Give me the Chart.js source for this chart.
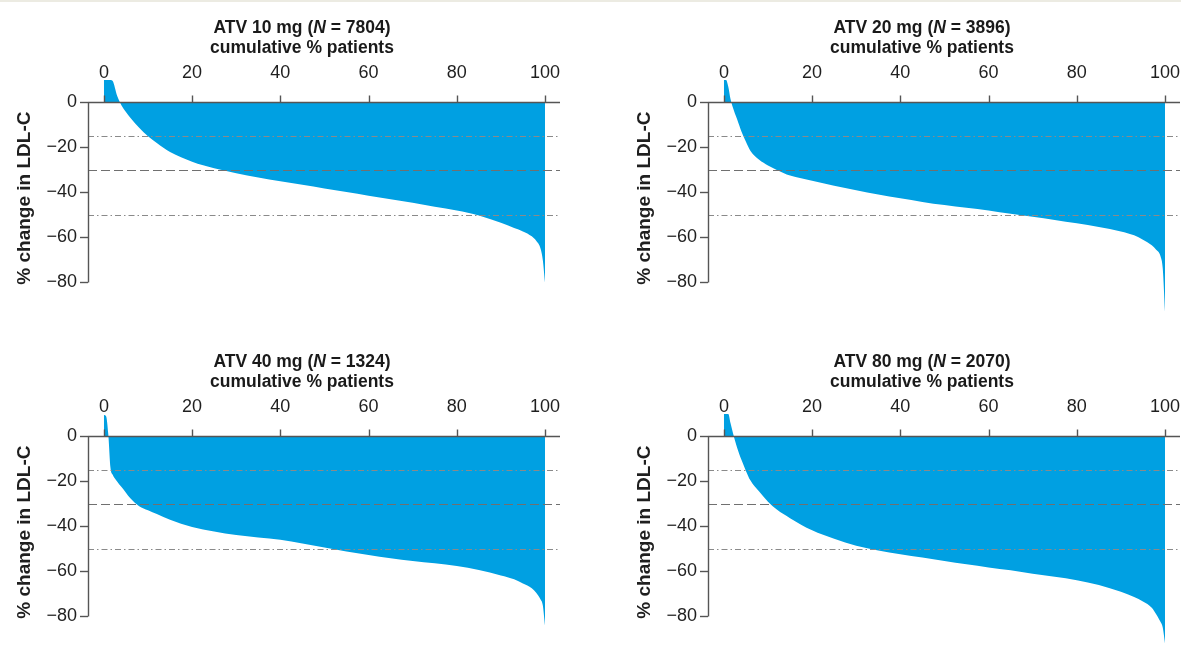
<!DOCTYPE html>
<html>
<head>
<meta charset="utf-8">
<title>LDL-C waterfall</title>
<script src="https://cdn.jsdelivr.net/npm/chart.js@4.4.1/dist/chart.umd.min.js"></script>
<style>
    html, body { margin: 0; padding: 0; background: #fff; overflow: hidden; }
    body { width: 1181px; height: 659px; position: relative; font-family: "Liberation Sans", Arial, sans-serif; }
    .topline { position: absolute; left: 0; top: 0; width: 1181px; height: 2px; background: #ecebe2; }
    .panel { position: absolute; width: 590px; height: 330px; }
    .panel canvas { position: absolute; left: 0; top: 0; }
    .ttl { position: absolute; left: 0; width: 604px; text-align: center; font-weight: bold;
           font-size: 17.5px; line-height: 21px; color: #1a1a1a; white-space: nowrap; }
</style>
</head>
<body>
<div class="topline"></div>
<div id="wrap"></div>
<script>
// Données
const doses = ['10', '20', '40', '80'];
const nPatients = [7804, 3896, 1324, 2070];
const xTicks = [0, 20, 40, 60, 80, 100];
const yTicks = [0, -20, -40, -60, -80];
const refLevels = [-15, -30, -50];

// % cumulé de patients (abscisse) et variation du LDL-C (%) pour chaque dose
const cumPct = [0, 0.5, 1, 1.5, 2, 3, 4, 5, 6, 8, 10, 12, 15, 20, 25, 30, 35, 40, 45, 50,
    55, 60, 65, 70, 75, 80, 85, 90, 93, 95, 97, 98, 99, 99.5, 100];
const atv10 = [10, 10, 10, 10, 9.5, 3, -1.3, -4.2, -6.8, -11.2, -15, -18, -22, -26.3, -29.2,
    -31.4, -33.3, -35, -36.6, -38.2, -39.8, -41.4, -43, -44.6, -46.3, -48, -50.2, -53.5, -55.8,
    -57.3, -59.5, -61.5, -65, -70, -80];
const atv20 = [10, 10, 7, 1.5, -2, -7.5, -13, -17.5, -21.5, -25.5, -28, -30, -32.5, -34.8, -37,
    -39, -40.9, -42.6, -44.2, -45.6, -46.8, -48, -49.5, -50.8, -52.2, -53.7, -55.4, -57.3, -59,
    -61, -63.5, -65.5, -68.5, -74, -93];
const atv40 = [9.5, 9, 1, -14, -17, -20, -22.5, -25, -27.5, -31, -32.8, -34.5, -37, -40.2, -42.2,
    -43.8, -44.9, -45.9, -47.6, -49.4, -51.1, -52.7, -54.1, -55.3, -56.4, -57.6, -59.4, -61.8,
    -63.5, -65.4, -67.5, -69.5, -72.5, -75, -84];
const atv80 = [10, 10, 10, 6, 2, -5, -10.5, -15.3, -19.5, -24.5, -29, -32.5, -36.3, -41.7, -45.5,
    -48.6, -50.7, -52.3, -53.8, -55.3, -56.8, -58.2, -59.5, -61, -62.4, -63.9, -66, -69, -71.3,
    -73.3, -76.1, -79, -82.5, -85, -92];
const series = [atv10, atv20, atv40, atv80];

// Bornes des axes
const xMin = -3.6, xMax = 103.4;
const yMin = -95, yMax = 10;

// Styles
const blue = '#00a0e2';
const axisColor = '#555';
const textColor = '#1f1f1f';
const refDash = [[6, 3, 1.5, 3], [9, 4], [6, 3, 1.5, 3]];
const refColor = ['#8a8a8a', '#707070', '#8a8a8a'];
const panelPos = [[0, 0], [620, 0], [0, 334], [620, 334]];

Chart.defaults.font.family = '"Liberation Sans", Arial, sans-serif';

const minus = v => (v < 0 ? '\u2212' + Math.abs(v) : String(v));

// Axe des x au niveau 0, axe des y de 0 à -80, lignes de référence
const axesOverlay = {
    id: 'axesOverlay',
    afterDatasetsDraw(chart) {
        const { ctx, chartArea, scales: { x, y } } = chart;
        const y0 = Math.round(y.getPixelForValue(0)) + 0.5;
        ctx.save();
        ctx.lineWidth = 1;
        refLevels.forEach((lvl, i) => {
            const py = Math.round(y.getPixelForValue(lvl)) + 0.5;
            ctx.setLineDash(refDash[i]);
            ctx.strokeStyle = refColor[i];
            ctx.beginPath();
            ctx.moveTo(chartArea.left, py);
            ctx.lineTo(chartArea.right, py);
            ctx.stroke();
        });
        ctx.setLineDash([]);
        ctx.strokeStyle = axisColor;
        ctx.lineWidth = 1.4;
        ctx.beginPath();
        ctx.moveTo(chartArea.left, y0);
        ctx.lineTo(chartArea.right, y0);
        xTicks.forEach(v => {
            const px = Math.round(x.getPixelForValue(v)) + 0.5;
            ctx.moveTo(px, y0);
            ctx.lineTo(px, y0 - 7);
        });
        const yAxisX = Math.round(chartArea.left) + 0.5;
        ctx.moveTo(yAxisX, y0);
        ctx.lineTo(yAxisX, y.getPixelForValue(yTicks[yTicks.length - 1]));
        ctx.stroke();
        ctx.restore();
    }
};

const wrap = document.getElementById('wrap');

doses.forEach((dose, i) => {
    const panel = document.createElement('div');
    panel.className = 'panel';
    panel.style.left = panelPos[i][0] + 'px';
    panel.style.top = panelPos[i][1] + 'px';

    const canvas = document.createElement('canvas');
    canvas.width = 590;
    canvas.height = 330;
    panel.appendChild(canvas);

    const t1 = document.createElement('div');
    t1.className = 'ttl';
    t1.style.top = '17px';
    t1.innerHTML = `ATV ${dose} mg (<i>N</i> = ${nPatients[i]})`;
    const t2 = document.createElement('div');
    t2.className = 'ttl';
    t2.style.top = '37px';
    t2.textContent = 'cumulative % patients';
    panel.appendChild(t1);
    panel.appendChild(t2);
    wrap.appendChild(panel);

    new Chart(canvas.getContext('2d'), {
        type: 'line',
        data: {
            datasets: [{
                data: cumPct.map((p, k) => ({ x: p, y: series[i][k] })),
                fill: 'origin',
                backgroundColor: blue,
                borderColor: blue,
                borderWidth: 0,
                pointRadius: 0,
                cubicInterpolationMode: 'monotone'
            }]
        },
        options: {
            responsive: false,
            animation: false,
            events: [],
            layout: { padding: { left: 0, right: 30, top: 50, bottom: 7 } },
            plugins: { legend: { display: false }, tooltip: { enabled: false } },
            scales: {
                x: {
                    type: 'linear',
                    position: 'top',
                    min: xMin,
                    max: xMax,
                    afterBuildTicks: s => { s.ticks = xTicks.map(v => ({ value: v })); },
                    afterFit: s => { s.height = 30; },
                    grid: { display: false },
                    border: { display: false },
                    ticks: {
                        color: textColor,
                        font: { size: 18 },
                        padding: -12,
                        maxRotation: 0
                    }
                },
                y: {
                    type: 'linear',
                    min: yMin,
                    max: yMax,
                    afterBuildTicks: s => { s.ticks = yTicks.map(v => ({ value: v })); },
                    afterFit: s => { s.width = 88; },
                    grid: {
                        drawOnChartArea: false,
                        drawTicks: true,
                        tickLength: 8,
                        tickColor: axisColor,
                        tickWidth: 1.4
                    },
                    border: { display: false },
                    ticks: {
                        color: textColor,
                        font: { size: 18 },
                        padding: 3,
                        callback: v => minus(v)
                    },
                    title: {
                        display: true,
                        text: '% change in LDL-C',
                        color: textColor,
                        font: { size: 19, weight: 'bold' },
                        padding: { top: 13, bottom: 0 }
                    }
                }
            }
        },
        plugins: [axesOverlay]
    });
});
</script>
</body>
</html>
